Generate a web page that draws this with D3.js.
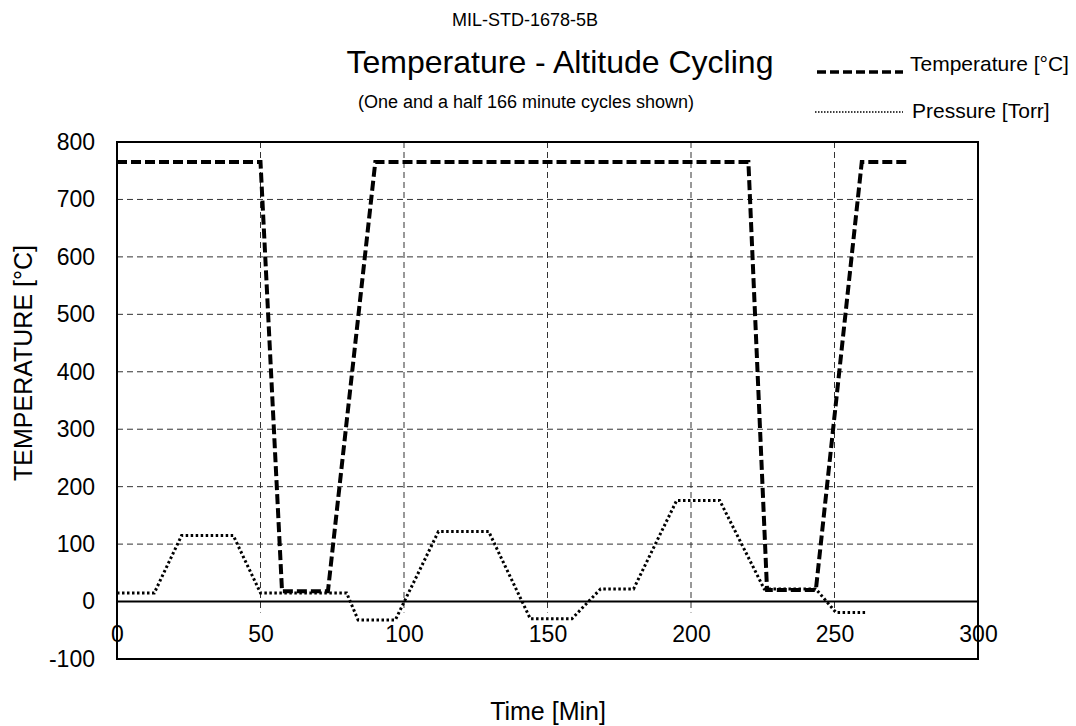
<!DOCTYPE html>
<html>
<head>
<meta charset="utf-8">
<title>Temperature - Altitude Cycling</title>
<script src="https://cdn.jsdelivr.net/npm/d3@7"></script>
<style>
  body { margin: 0; background: #fff; }
  text { font-family: "Liberation Sans", Arial, sans-serif; fill: #000; }
</style>
</head>
<body>
<script>
// chart data
var tempTime = [0, 50, 57.5, 73.5, 90, 220, 226.5, 243.5, 259.5, 275];
var tempVal  = [765, 765, 18, 18, 765, 765, 20, 20, 765, 765];

var presTime = [0, 13, 22.5, 40.5, 50, 80, 84, 97, 112, 129.5, 144, 158.5, 168.5, 180, 195, 210, 225.5, 243.5, 250.5, 261.5];
var presVal  = [15, 15, 115, 115, 15, 15, -32, -32, 122, 122, -30, -30, 22, 22, 176, 176, 22, 22, -19, -19];

var xTicks = [0, 50, 100, 150, 200, 250, 300];
var yTicks = [-100, 0, 100, 200, 300, 400, 500, 600, 700, 800];

var w = 1076, h = 726;
var margin = {left: 117, right: 98, top: 142, bottom: 67};
var font = '"Liberation Sans", Arial, sans-serif';

var svg = d3.select('body').append('svg').attr('width', w).attr('height', h);

var x = d3.scaleLinear().domain([0, 300]).range([margin.left, w - margin.right]);
var y = d3.scaleLinear().domain([-100, 800]).range([h - margin.bottom, margin.top]);

// horizontal gridlines
svg.append('g').selectAll('line').data(yTicks.filter(function(d) { return d > 0 && d < 800; }))
  .enter().append('line')
  .attr('x1', x(0)).attr('x2', x(300))
  .attr('y1', function(d) { return y(d); }).attr('y2', function(d) { return y(d); })
  .attr('stroke', '#333').attr('stroke-width', 1).attr('stroke-dasharray', '6,4');

// vertical gridlines (run down just past the zero line)
svg.append('g').selectAll('line').data(xTicks.filter(function(d) { return d > 0 && d < 300; }))
  .enter().append('line')
  .attr('x1', function(d) { return x(d); }).attr('x2', function(d) { return x(d); })
  .attr('y1', y(800)).attr('y2', y(0) + 11)
  .attr('stroke', '#333').attr('stroke-width', 1).attr('stroke-dasharray', '6,4');

// plot frame
svg.append('rect').attr('x', x(0)).attr('y', y(800))
  .attr('width', x(300) - x(0)).attr('height', y(-100) - y(800))
  .attr('fill', 'none').attr('stroke', '#000').attr('stroke-width', 2);

// zero line
svg.append('line').attr('x1', x(0)).attr('x2', x(300)).attr('y1', y(0)).attr('y2', y(0))
  .attr('stroke', '#000').attr('stroke-width', 2);

// y axis labels (plain hyphen for negatives, like the original)
var yAxis = d3.axisLeft(y).tickValues(yTicks).tickSize(0).tickPadding(22)
  .tickFormat(function(d) { return String(d); });
var gy = svg.append('g').attr('transform', 'translate(' + x(0) + ',0)').call(yAxis);
gy.select('.domain').remove();
gy.selectAll('text').attr('font-size', 23).style('font-family', font);

// x axis labels sit below the zero line
var xAxis = d3.axisBottom(x).tickValues(xTicks).tickSize(0).tickPadding(24)
  .tickFormat(function(d) { return String(d); });
var gx = svg.append('g').attr('transform', 'translate(0,' + y(0) + ')').call(xAxis);
gx.select('.domain').remove();
gx.selectAll('text').attr('font-size', 23).style('font-family', font);

// series
var tempData = tempTime.map(function(t, i) { return {t: t, v: tempVal[i]}; });
var presData = presTime.map(function(t, i) { return {t: t, v: presVal[i]}; });
var line = d3.line().x(function(d) { return x(d.t); }).y(function(d) { return y(d.v); });

svg.append('path').datum(presData).attr('d', line)
  .attr('fill', 'none').attr('stroke', '#000').attr('stroke-width', 3)
  .attr('stroke-dasharray', '2.5,2.5');

svg.append('path').datum(tempData).attr('d', line)
  .attr('fill', 'none').attr('stroke', '#000').attr('stroke-width', 4)
  .attr('stroke-dasharray', '10,4');

// titles
svg.append('text').attr('x', 525).attr('y', 26).attr('text-anchor', 'middle')
  .attr('font-size', 18).text('MIL-STD-1678-5B');
svg.append('text').attr('x', 560).attr('y', 73).attr('text-anchor', 'middle')
  .attr('font-size', 32).text('Temperature - Altitude Cycling');
svg.append('text').attr('x', 526).attr('y', 108).attr('text-anchor', 'middle')
  .attr('font-size', 18).text('(One and a half 166 minute cycles shown)');

// legend
svg.append('line').attr('x1', 817).attr('x2', 903).attr('y1', 72).attr('y2', 72)
  .attr('stroke', '#000').attr('stroke-width', 3.5).attr('stroke-dasharray', '9,4');
svg.append('text').attr('x', 910).attr('y', 71).attr('font-size', 21).text('Temperature [°C]');
svg.append('line').attr('x1', 815).attr('x2', 903).attr('y1', 112).attr('y2', 112)
  .attr('stroke', '#000').attr('stroke-width', 1.5).attr('stroke-dasharray', '1.5,1.5');
svg.append('text').attr('x', 912).attr('y', 118).attr('font-size', 21).text('Pressure [Torr]');

// axis titles
svg.append('text').attr('transform', 'translate(32,363)rotate(-90)')
  .attr('text-anchor', 'middle').attr('font-size', 25).text('TEMPERATURE [°C]');
svg.append('text').attr('x', 548).attr('y', 720).attr('text-anchor', 'middle')
  .attr('font-size', 25).text('Time [Min]');
</script>
</body>
</html>
